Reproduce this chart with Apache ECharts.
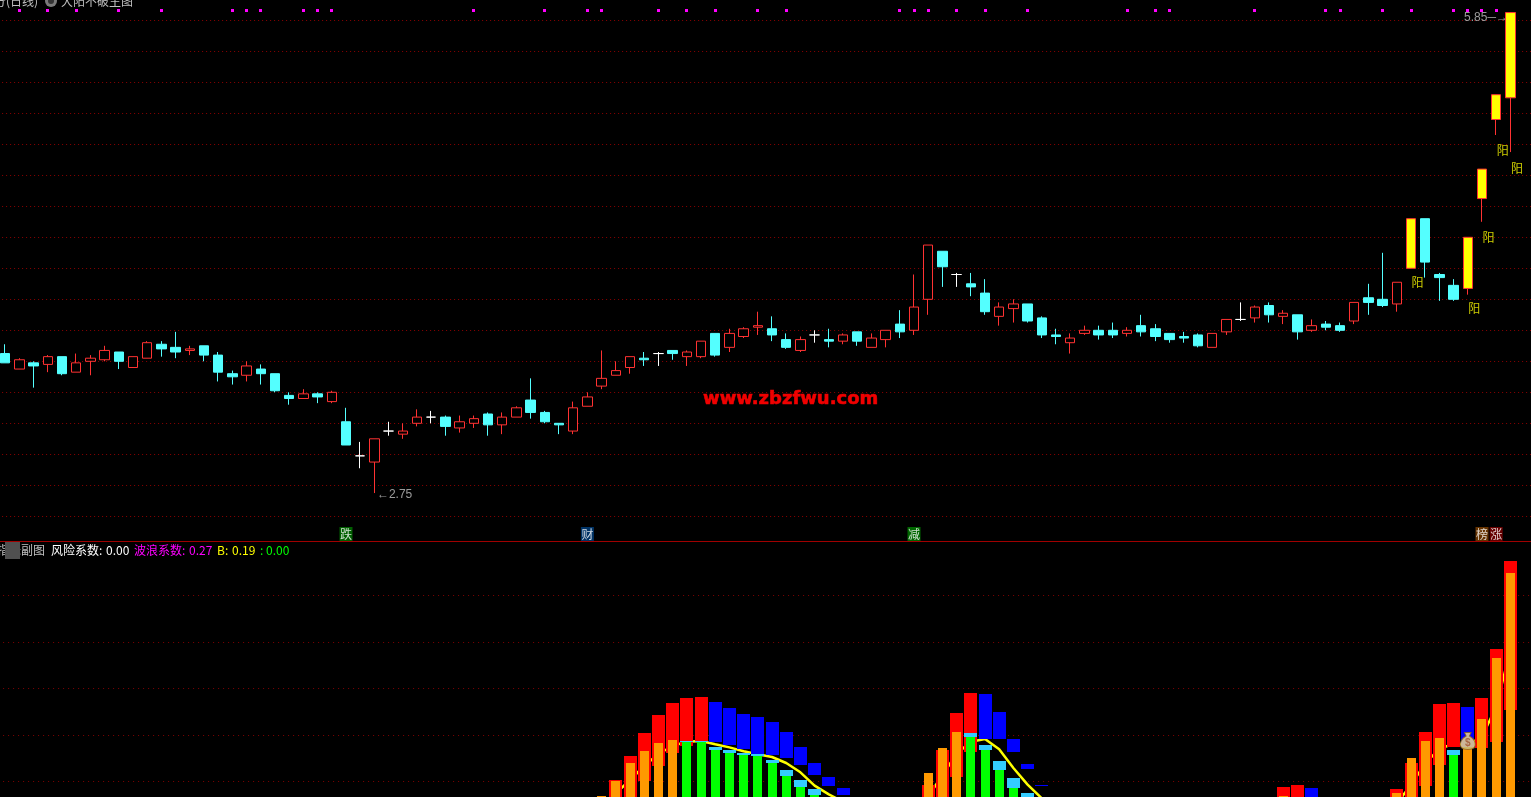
<!DOCTYPE html>
<html><head><meta charset="utf-8">
<style>html,body{margin:0;padding:0;background:#000;overflow:hidden}#c{width:1531px;height:797px}</style>
<script src="https://cdn.jsdelivr.net/npm/echarts@6/dist/echarts.min.js"></script>
</head><body><div id="c"></div>
<script>
// ---- main panel: daily OHLC, index 0..106 ----
const open=[3.65,3.55,3.59,3.58,3.63,3.53,3.60,3.61,3.66,3.56,
3.62,3.71,3.69,3.67,3.70,3.64,3.52,3.51,3.55,3.52,
3.38,3.36,3.39,3.34,3.21,2.99,2.95,3.15,3.13,3.20,
3.24,3.24,3.17,3.20,3.26,3.19,3.24,3.35,3.27,3.20,
3.15,3.31,3.44,3.51,3.56,3.62,3.65,3.67,3.63,3.63,
3.78,3.69,3.76,3.82,3.81,3.74,3.67,3.77,3.74,3.73,
3.79,3.69,3.74,3.84,3.80,4.00,4.31,4.16,4.10,4.04,
3.89,3.94,3.97,3.88,3.77,3.72,3.78,3.80,3.80,3.78,
3.83,3.81,3.78,3.76,3.77,3.69,3.79,3.87,3.88,3.96,
3.89,3.90,3.80,3.84,3.83,3.86,4.01,4.00,3.97,4.20,
4.52,4.16,4.09,4.07,4.65,5.16,5.30];
const close=[3.59,3.61,3.57,3.63,3.52,3.59,3.62,3.67,3.60,3.63,
3.72,3.68,3.66,3.68,3.64,3.53,3.50,3.57,3.52,3.41,
3.36,3.39,3.37,3.40,3.06,2.99,3.10,3.15,3.15,3.24,
3.24,3.18,3.21,3.23,3.19,3.24,3.30,3.27,3.21,3.19,
3.30,3.37,3.49,3.54,3.63,3.61,3.65,3.65,3.66,3.73,
3.64,3.78,3.81,3.83,3.77,3.69,3.74,3.77,3.73,3.77,
3.73,3.75,3.80,3.79,3.95,4.35,4.21,4.16,4.08,3.92,
3.95,3.97,3.86,3.77,3.76,3.75,3.80,3.77,3.77,3.80,
3.79,3.76,3.74,3.75,3.70,3.78,3.87,3.87,3.95,3.90,
3.91,3.79,3.83,3.82,3.80,3.98,3.98,3.96,4.11,4.52,
4.24,4.14,4.00,4.40,4.84,5.32,5.85];
const high=[3.71,3.62,3.60,3.64,3.63,3.65,3.64,3.70,3.66,3.63,
3.73,3.73,3.79,3.70,3.70,3.66,3.54,3.60,3.58,3.52,
3.40,3.42,3.40,3.41,3.30,3.08,3.10,3.21,3.20,3.29,
3.28,3.25,3.25,3.25,3.27,3.27,3.31,3.49,3.28,3.20,
3.34,3.40,3.67,3.60,3.63,3.66,3.66,3.67,3.67,3.73,
3.78,3.81,3.82,3.92,3.89,3.78,3.76,3.80,3.81,3.78,
3.79,3.78,3.80,3.93,4.16,4.35,4.31,4.17,4.17,4.13,
3.98,4.00,3.97,3.89,3.81,3.78,3.83,3.83,3.85,3.82,
3.90,3.84,3.78,3.79,3.78,3.78,3.87,3.98,3.96,3.98,
3.93,3.90,3.87,3.86,3.85,3.98,4.10,4.30,4.11,4.52,
4.52,4.17,4.13,4.40,4.84,5.32,5.85];
const low=[3.59,3.55,3.43,3.53,3.51,3.53,3.51,3.60,3.55,3.56,
3.62,3.63,3.62,3.64,3.60,3.47,3.45,3.47,3.45,3.40,
3.32,3.36,3.33,3.33,3.06,2.91,2.75,3.12,3.10,3.18,
3.20,3.12,3.14,3.17,3.12,3.13,3.24,3.23,3.20,3.13,
3.13,3.31,3.42,3.51,3.52,3.57,3.57,3.61,3.57,3.62,
3.63,3.66,3.75,3.77,3.73,3.68,3.66,3.72,3.69,3.71,
3.70,3.69,3.69,3.75,3.77,3.90,4.08,4.08,4.02,3.90,
3.83,3.85,3.85,3.75,3.71,3.65,3.77,3.74,3.75,3.76,
3.76,3.73,3.72,3.72,3.69,3.69,3.77,3.86,3.85,3.85,
3.84,3.74,3.79,3.80,3.79,3.84,3.90,3.95,3.92,4.20,
4.14,3.99,3.99,4.03,4.50,5.06,4.95];
const yellowDays=[99,103,104,105,106];
const magentaDays=[1,3,5,8,11,16,17,18,21,22,23,33,38,41,42,46,48,50,53,55,63,64,65,67,69,72,79,81,82,88,93,94,97,99,102,103,104,105];
const magentaLevel=5.865;
const yangLabels=[[99,4.112],[103,3.944],[104,4.402],[105,4.963],[106,4.847]];
const tagLevel=2.486;
const tags=[[24,'跌','#007700'],[41,'财','#004080'],[64,'减','#007f00'],[104,'榜','#804000'],[105,'涨','#800000']];
const lowMark=[26,2.75];
const highMark=[106,5.85];
// 109 slots so the panel's dotted lines run past the last day
const days=Array.from({length:109},(_,i)=>String(i));

// ---- lower panel: [day, bottom, top] ----
const redBars=[[43,10,20.56],[44,10,30.88],[45,20.13,40.77],[46,26.58,48.52],[47,32.17,53.68],[48,35.18,55.83],[49,36.9,56.26],
[65,10,18.41],[66,10,33.46],[67,21.85,49.38],[68,32.6,57.98],
[90,10,17.55],[91,10,18.4],
[98,10,16.68],[99,10,27.87],[100,17.98,41.2],[101,27,53.24],[102,34.75,53.67],[104,34.32,55.82],[105,36.9,76.9],[106,50.66,114.75]];
const blueBars=[[50,36.9,54.1],[51,35.47,51.53],[52,33.89,48.95],[53,31.74,47.66],[54,31.3,45.5],[55,30.16,41.2],[56,27.01,34.75],[57,22.71,27.87],[58,17.98,21.85],[59,14.11,17.12],
[69,38.19,57.55],[70,38.19,49.81],[71,32.6,38.19],[72,25.29,27.44],[73,17.98,18.41],
[92,10,17.1],[103,34.75,51.95]];
const capBars=[[48,36.9,37.3],[49,36.9,37.3],[50,33.46,34.75],[51,32.17,33.6],[52,31.31,32.17],[53,30.88,31.74],[54,27.87,29.3],[55,22.28,24.86],[56,17.55,20.56],[57,14.11,16.69],
[68,39.05,40.77],[69,33.46,35.6],[70,24.86,28.73],[71,17.12,21.42],[72,10,14.97],[102,31.31,33.46]];
const orangeBars=[[42,13.68],[43,20.13],[44,27.87],[45,33.03],[46,36.47],[47,37.76],[65,23.57],[66,34.32],[67,41.2],[90,13.68],[98,14.96],[99,30.02],[100,37.33],[101,38.62],[103,33.89],[104,46.79],[105,73.03],[106,109.59]];
const greenBars=[[48,36.9],[49,36.9],[50,33.46],[51,32.17],[52,31.31],[53,30.88],[54,27.87],[55,22.28],[56,17.55],[57,14.11],[68,39.05],[69,33.46],[70,24.86],[71,17.12],[102,31.31]];
const lineA=[[42,10],[43,14.8],[44,20.56],[45,26.58],[46,31.74],[47,35.18],[48,37.05],[49,37.33],[50,35.9],[51,34.6],[52,32.9],[53,31.6],[54,30.45],[55,27.87],[56,23.86],[57,18.12],[58,14.4],[59,11.2]];
const lineB=[[64,7],[65,13.4],[66,22.7],[67,31.74],[68,37.05],[69,38.19],[70,33.75],[71,25.72],[72,18.55],[73,12.67]];
const lineC=[[97,5],[98,10.5],[99,18.4],[100,27.7],[101,33.9],[102,36.2],[103,35.6],[104,39.2],[105,52.1],[106,76.5]];
const bagMark=[103,37.3];

const RED='#ff3232',CYAN='#54ffff',GRID='#8c0000',SILVER='#c0c0c0';
const CN='"Noto Sans CJK SC","Liberation Sans",sans-serif';
const candleData=open.map((o,i)=>{
  const item={value:[o,close[i],low[i],high[i]]};
  if(yellowDays.includes(i)) item.itemStyle={color:'#ffff00',borderColor:RED};
  return item;
});
function floatSeries(name,color,width,data,z){
  return {name,type:'custom',xAxisIndex:1,yAxisIndex:1,data,silent:true,z,
    encode:{x:0,y:[1,2]},
    renderItem(p,api){
      const cx=api.coord([api.value(0),0])[0];
      const hasBottom=data[p.dataIndex].length>2;
      const bottom=hasBottom?api.value(1):0, top=hasBottom?api.value(2):api.value(1);
      const y1=Math.round(api.coord([api.value(0),top])[1]);
      const y2=Math.round(api.coord([api.value(0),bottom])[1]);
      return {type:'rect',shape:{x:Math.round(cx-width/2),y:y1,width,height:y2-y1},style:{fill:color}};
    }};
}
function lineSeries(data){
  return {type:'line',xAxisIndex:1,yAxisIndex:1,data,symbol:'none',silent:true,z:1,
    lineStyle:{color:'#ffff00',width:2.5}};
}
function textEl(x,text,fill,y,size){
  return {type:'text',x,y,z:50,style:{text,fill,font:(size||12)+'px '+CN,textBaseline:'middle',textVerticalAlign:'middle'}};
}
const option={
  backgroundColor:'#000',animation:false,
  grid:[{left:-1.9,top:-10.7,width:1547.8,height:558,outerBoundsMode:'none',containLabel:false},
        {left:-1.9,top:548.8,width:1547.8,height:279,outerBoundsMode:'none',containLabel:false}],
  xAxis:[
    {type:'category',gridIndex:0,data:days,show:false},
    {type:'category',gridIndex:1,data:days,show:false}],
  yAxis:[
    {type:'value',gridIndex:0,min:2.4,max:6.0,interval:0.2,axisLabel:{show:false},axisTick:{show:false},axisLine:{show:false},
     splitLine:{show:true,showMinLine:false,showMaxLine:false,lineStyle:{color:GRID,width:1,type:[1,3]}}},
    {type:'value',gridIndex:1,min:0,max:120,interval:20,axisLabel:{show:false},axisTick:{show:false},axisLine:{show:false},
     splitLine:{show:true,showMinLine:false,showMaxLine:false,lineStyle:{color:'#800000',width:1,type:[1,4]}}}],
  series:[
    {type:'candlestick',xAxisIndex:0,yAxisIndex:0,data:candleData,barWidth:10,silent:true,
     itemStyle:{color:'#000',color0:CYAN,borderColor:RED,borderColor0:CYAN,borderColorDoji:'#fff',borderWidth:1}},
    {type:'custom',xAxisIndex:0,yAxisIndex:0,silent:true,data:magentaDays.map(d=>[d,magentaLevel]),
     renderItem(p,api){
       const c=api.coord([api.value(0),api.value(1)]);
       return {type:'rect',shape:{x:Math.round(c[0]-1.5),y:Math.round(c[1]-1.5),width:3,height:3},style:{fill:'#ff00ff'}};
     }},
    {type:'scatter',xAxisIndex:0,yAxisIndex:0,symbolSize:1,silent:true,itemStyle:{color:'transparent'},data:yangLabels,
     label:{show:true,position:'right',distance:0,formatter:'阳',color:'#ffff00',fontSize:12,fontFamily:CN}},
    {type:'scatter',xAxisIndex:0,yAxisIndex:0,symbolSize:1,silent:true,itemStyle:{color:'transparent'},
     data:[{value:lowMark,label:{position:'right',distance:0,offset:[2,2],formatter:'←2.75'}},
           {value:highMark,label:{position:'left',distance:2,offset:[0,5],formatter:'5.85─→'}}],
     label:{show:true,color:SILVER,fontSize:12,fontFamily:'"Liberation Sans"'}},
    {type:'scatter',xAxisIndex:0,yAxisIndex:0,symbolSize:1,silent:true,itemStyle:{color:'transparent'},
     data:tags.map(t=>({value:[t[0],tagLevel],label:{formatter:t[1],backgroundColor:t[2]}})),
     label:{show:true,position:'inside',color:'#fff',fontSize:12,fontFamily:CN,padding:[1,0.5,0,0.5],lineHeight:13}},
    lineSeries(lineA),lineSeries(lineB),lineSeries(lineC),
    floatSeries('red','#ff0000',13,redBars,3),
    floatSeries('blue','#0000ff',13,blueBars,3),
    floatSeries('cap','#33ccff',13,capBars,4),
    floatSeries('orange','#ff9900',9,orangeBars,5),
    floatSeries('green','#00ff00',9,greenBars,5),
    {type:'scatter',xAxisIndex:1,yAxisIndex:1,silent:true,z:20,data:[bagMark],symbolSize:[15,17],
     symbol:'path://M5 1h6l-1.5 3c4 2 6 6 5 9c-.5 2-3 3-6.5 3s-6-1-6.5-3c-1-3 1-7 5-9z',
     itemStyle:{color:'#ffe680',borderColor:'#8a5a1a',borderWidth:1},
     label:{show:true,position:'inside',formatter:'$',color:'#a0522d',fontSize:10,fontWeight:'bold',offset:[0,2]}}
  ],
  graphic:[
    {type:'rect',z:40,shape:{x:0,y:541,width:1531,height:1},style:{fill:'#a00000'}},
    textEl(-6,'分(日线)',SILVER,1),
    {type:'circle',z:40,shape:{cx:51,cy:1,r:6},style:{fill:'#7a7a7a'}},
    {type:'circle',z:41,shape:{cx:51,cy:1,r:3},style:{fill:'#333'}},
    textEl(61,'大阳不破主图',SILVER,1),
    textEl(-3,'指标副图',SILVER,550),
    {type:'rect',z:60,shape:{x:5,y:542,width:15,height:17},style:{fill:'#505050'}},
    textEl(51,'风险系数:',"#ffffff",550),
    textEl(106,'0.00','#ffffff',550),
    textEl(134,'波浪系数:','#ff00ff',550),
    textEl(189,'0.27','#ff00ff',550),
    textEl(217,'B:','#ffff00',550),
    textEl(232,'0.19','#ffff00',550),
    textEl(260,':','#00ff00',550),
    textEl(266,'0.00','#00ff00',550),
    {type:'text',x:703,y:399,z:50,style:{text:'www.zbzfwu.com',fill:'#f00000',stroke:'#f00000',lineWidth:0.6,font:'900 18px "DejaVu Sans"',textBaseline:'middle',textVerticalAlign:'middle'}}
  ]
};
const chart=echarts.init(document.getElementById('c'),null,{renderer:'canvas',width:1531,height:797});
chart.setOption(option);
</script></body></html>
